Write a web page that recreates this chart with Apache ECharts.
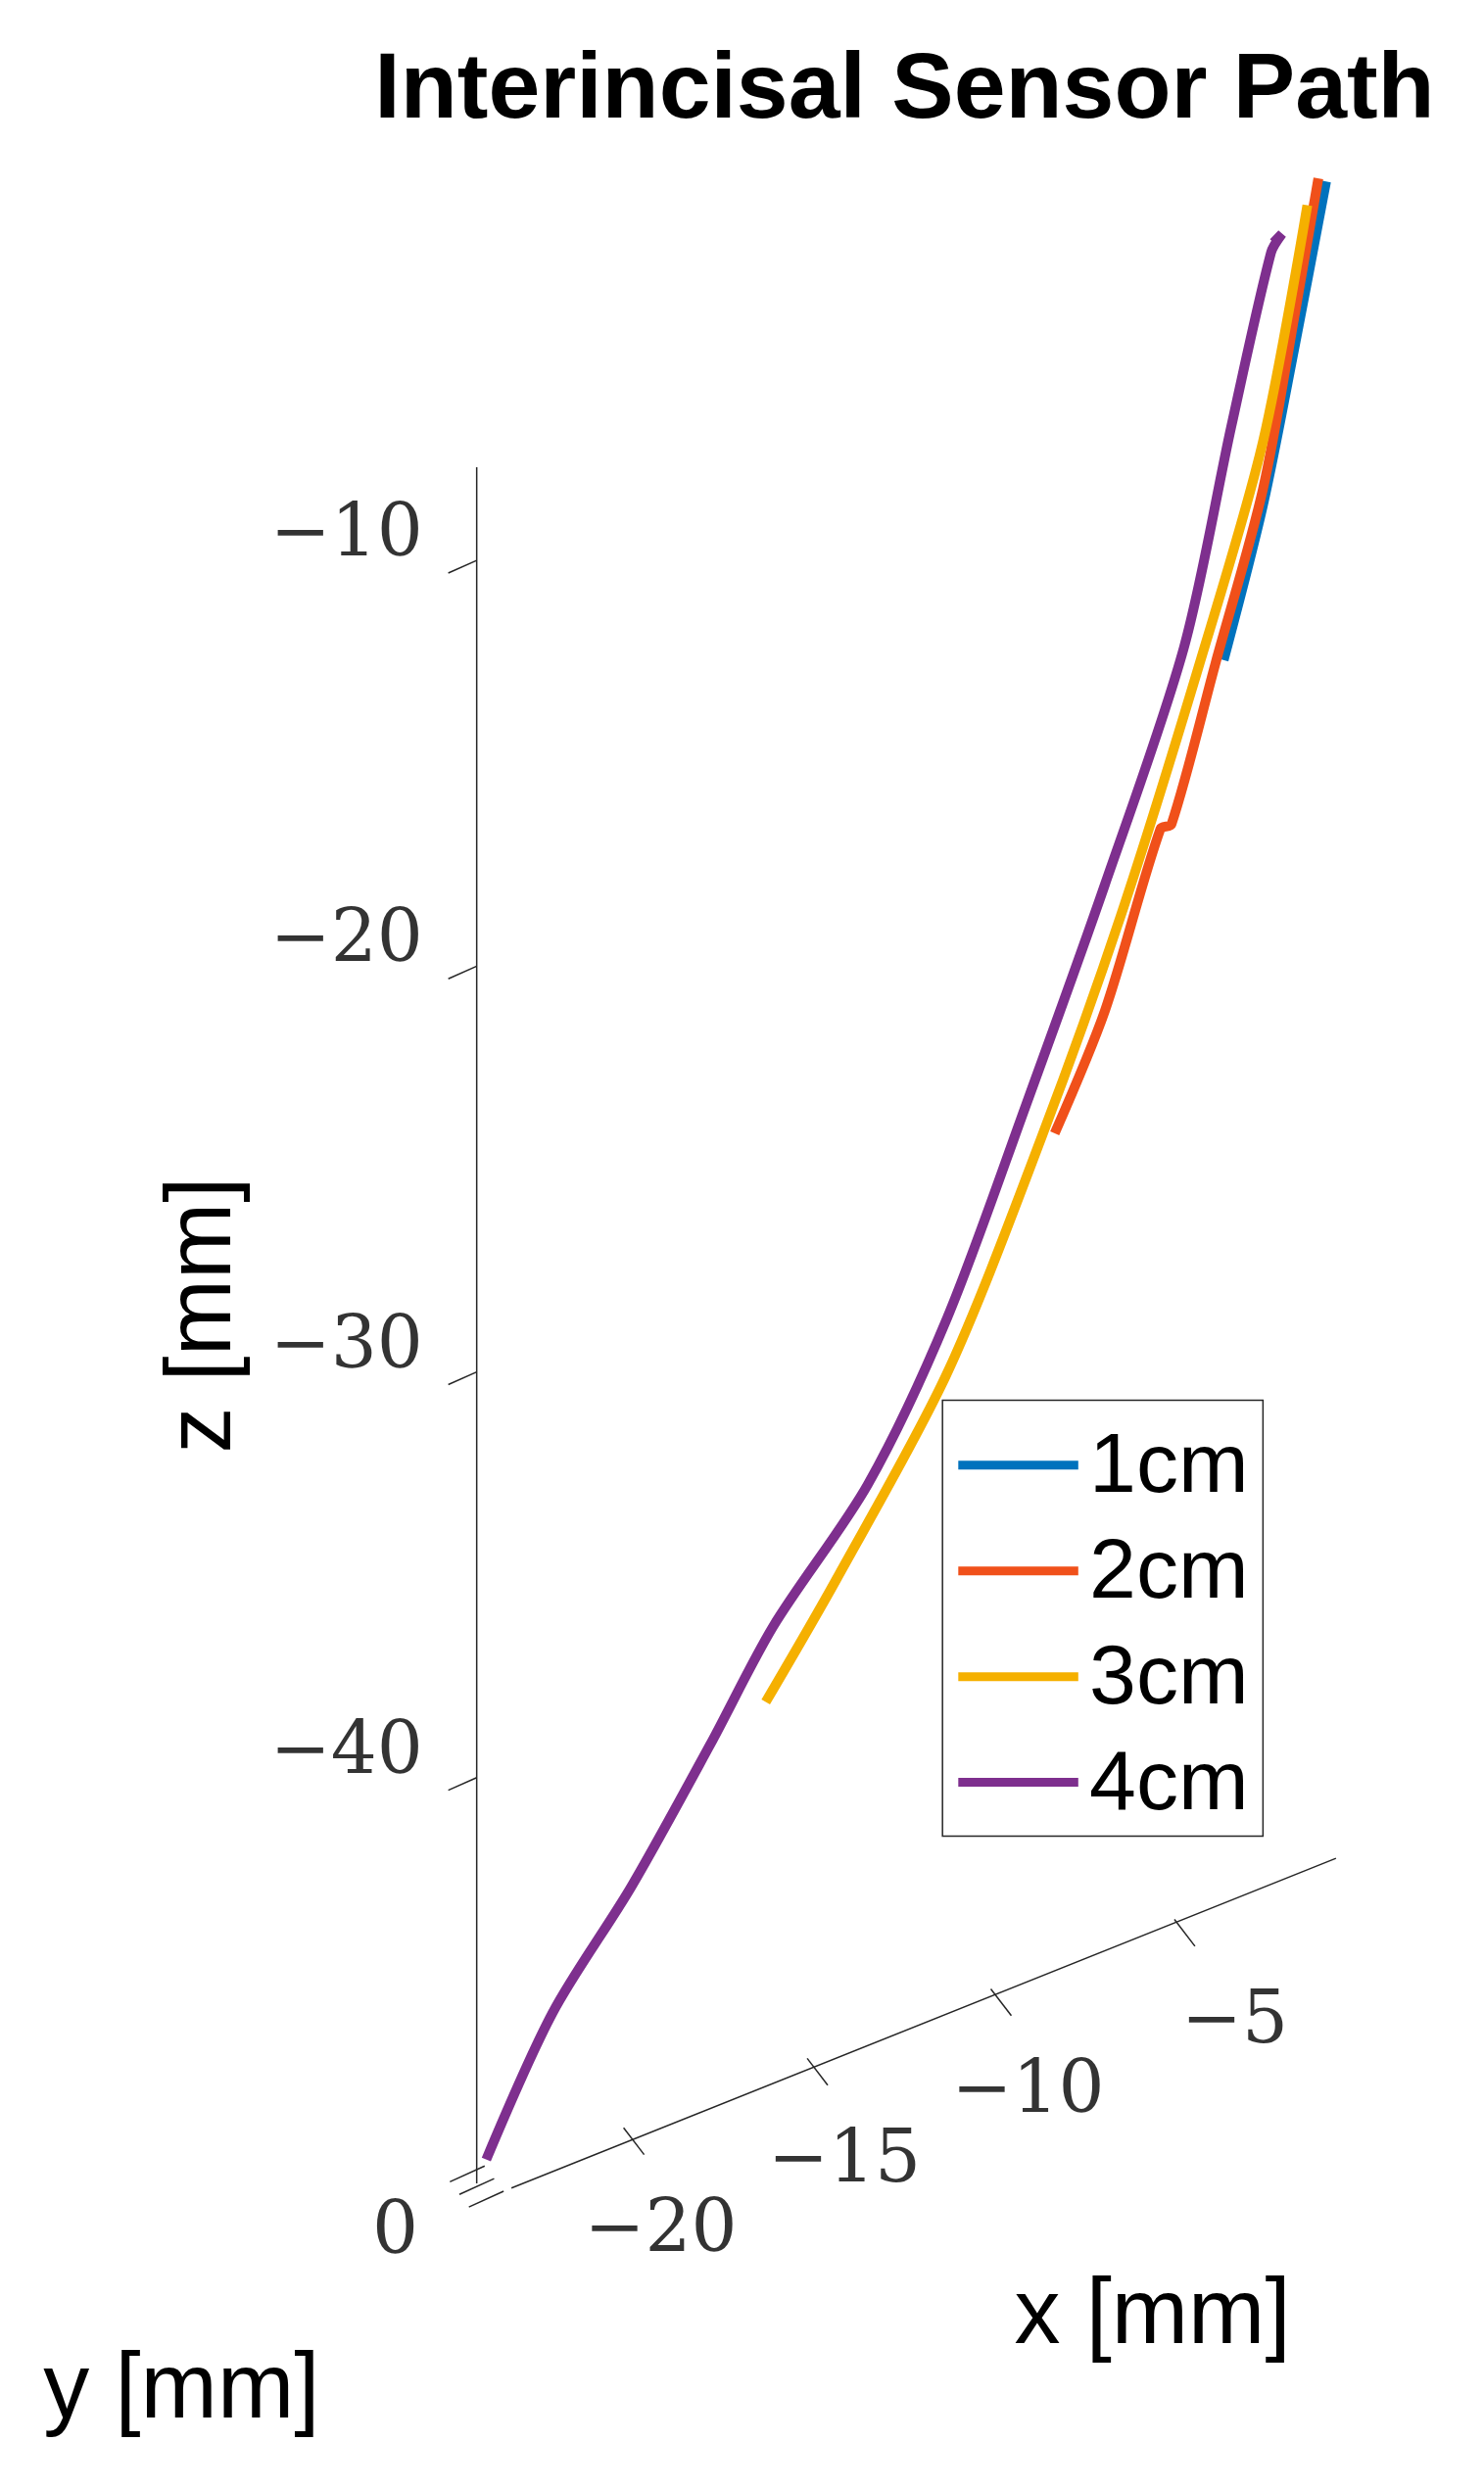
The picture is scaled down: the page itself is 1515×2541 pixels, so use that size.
<!DOCTYPE html>
<html>
<head>
<meta charset="utf-8">
<script src="https://cdn.jsdelivr.net/npm/echarts@6/dist/echarts.min.js"></script>
<style>html,body{margin:0;background:#fff}#c{width:1515px;height:2541px}</style>
</head>
<body>
<div id="c"></div>
<script>
// path samples, [x mm, z mm] (y is 0 for all)
const path1cm = [[-3.66, -19.42], [-2.59, -15.97], [-1.73, -12.37], [-0.87, -8.58]]
const path2cm = [[-8.26, -29.51], [-6.89, -26.95], [-5.38, -22.99], [-5.08, -22.98], [-3.88, -19.42],
  [-2.59, -15.58], [-1.73, -11.6], [-1.08, -8.43]]
const path3cm = [[-16.13, -40.83], [-14.2, -38.46], [-11.19, -34.42], [-8.61, -29.47], [-6.46, -24.76],
  [-4.31, -19.27], [-2.59, -14.41], [-1.38, -8.99]]
const path4cm = [[-23.74, -49.5], [-21.93, -46.5], [-19.79, -44.13], [-17.64, -41.36], [-15.92, -39.03],
  [-13.34, -36.41], [-11.19, -33.06], [-9.04, -28.54], [-6.89, -23.84], [-4.74, -18.74],
  [-3.45, -13.73], [-2.37, -9.82], [-2.07, -9.46], [-2.3, -9.6]]
const seriesNames = ['1cm', '2cm', '3cm', '4cm']
const seriesColors = ['#0072BD', '#F0501A', '#F5B000', '#7E2F8E']
const xTicks = [-20, -15, -10, -5]
const zTicks = [-10, -20, -30, -40]

const S = 1515 / 940
// simple fixed 3D view projection (in reference units, then scaled)
function project(x, z) {
  return [395 + (x + 20) * 23.26, 1383 - (z + 50) * 25.7 - (x + 24) * 8.8]
}
const P = (x, z) => project(x, z)
const fmt = v => String(v).replace('-', '\u2212')

const paths = [path1cm, path2cm, path3cm, path4cm]
const series = paths.map((p, i) => ({
  name: seriesNames[i], type: 'line', showSymbol: false, z: 5, smooth: 0.3,
  data: p.map(d => P(d[0], d[1])),
  lineStyle: { color: seriesColors[i], width: 10 }
}))

// axis lines
const zA = P(-24, -50), zB = P(-24, -7.7)
const xA = P(-24, -50), xB = P(-0.6, -50)
const axisStyle = { color: '#262626', width: 1.5 }
series.push({ type: 'line', showSymbol: false, silent: true, data: [[zA[0], zA[1]], [zB[0], zB[1]]], lineStyle: axisStyle })
series.push({ type: 'line', showSymbol: false, silent: true, data: [[xA[0] + 22, xA[1] + 3], [xB[0], xB[1]]], lineStyle: axisStyle })
// ticks
const tickLines = []
zTicks.forEach(t => { const p = P(-24, t); tickLines.push([[p[0], p[1]], [p[0] - 18, p[1] + 8]]) })
xTicks.forEach(t => { const p = P(t, -50); tickLines.push([[p[0], p[1]], [p[0] + 13, p[1] + 17]]) })
;[0, 1, 2].forEach(k => { const y0 = 1376 + k * 8; tickLines.push([[285 + k * 6, y0 + 6], [307 + k * 6, y0 - 4]]) })
tickLines.forEach(l => series.push({ type: 'line', showSymbol: false, silent: true, data: l, lineStyle: axisStyle }))
// tick labels
const lbl = (pos, text, align) => ({
  value: pos,
  label: { show: true, formatter: text, align: align, verticalAlign: 'middle', fontFamily: 'DejaVu Serif', fontSize: 74, color: '#000' }
})
const labelData = []
zTicks.forEach(t => { const p = P(-24, t); labelData.push(lbl([268, p[1] - 15], fmt(t), 'right')) })
xTicks.forEach(t => { const p = P(t, -50); labelData.push(lbl([p[0] + 72, p[1] + 66], fmt(t), 'right')) })
labelData.push(lbl([265, 1415], '0', 'right'))
series.push({ type: 'scatter', symbolSize: 0, silent: true, data: labelData })

const chart = echarts.init(document.getElementById('c'))
const legendEntries = seriesNames.map((n, i) => [
  { type: 'line', shape: { x1: 607 * S, y1: (928 + i * 67) * S, x2: 683 * S, y2: (928 + i * 67) * S }, style: { stroke: seriesColors[i], lineWidth: 9 } },
  { type: 'text', x: 690 * S, y: (930 + i * 67) * S, style: { text: n, font: '86px Liberation Sans', fill: '#000', textVerticalAlign: 'middle' } }
]).flat()
chart.setOption({
  animation: false,
  grid: { left: 0, right: 0, top: 0, bottom: 0 },
  xAxis: { type: 'value', min: 0, max: 940, show: false },
  yAxis: { type: 'value', min: 0, max: 2541 / S, inverse: true, show: false },
  series: series,
  graphic: [
    { type: 'text', x: 573 * S, y: 58 * S, style: { text: 'Interincisal Sensor Path', font: 'bold 95px Liberation Sans', fill: '#000', textAlign: 'center', textVerticalAlign: 'middle' } },
    { type: 'text', x: 130 * S, y: 833 * S, rotation: Math.PI / 2, style: { text: 'z [mm]', font: '94px Liberation Sans', fill: '#000', textAlign: 'center', textVerticalAlign: 'middle' } },
    { type: 'text', x: 730 * S, y: 1468 * S, style: { text: 'x [mm]', font: '94px Liberation Sans', fill: '#000', textAlign: 'center', textVerticalAlign: 'middle' } },
    { type: 'text', x: 115 * S, y: 1515 * S, style: { text: 'y [mm]', font: '94px Liberation Sans', fill: '#000', textAlign: 'center', textVerticalAlign: 'middle' } },
    { type: 'rect', shape: { x: 597 * S, y: 887 * S, width: 203 * S, height: 276 * S }, style: { fill: '#fff', stroke: '#262626', lineWidth: 1.5 }, z: 10 },
    ...legendEntries.map(e => Object.assign(e, { z: 11 }))
  ]
})
</script>
</body>
</html>
